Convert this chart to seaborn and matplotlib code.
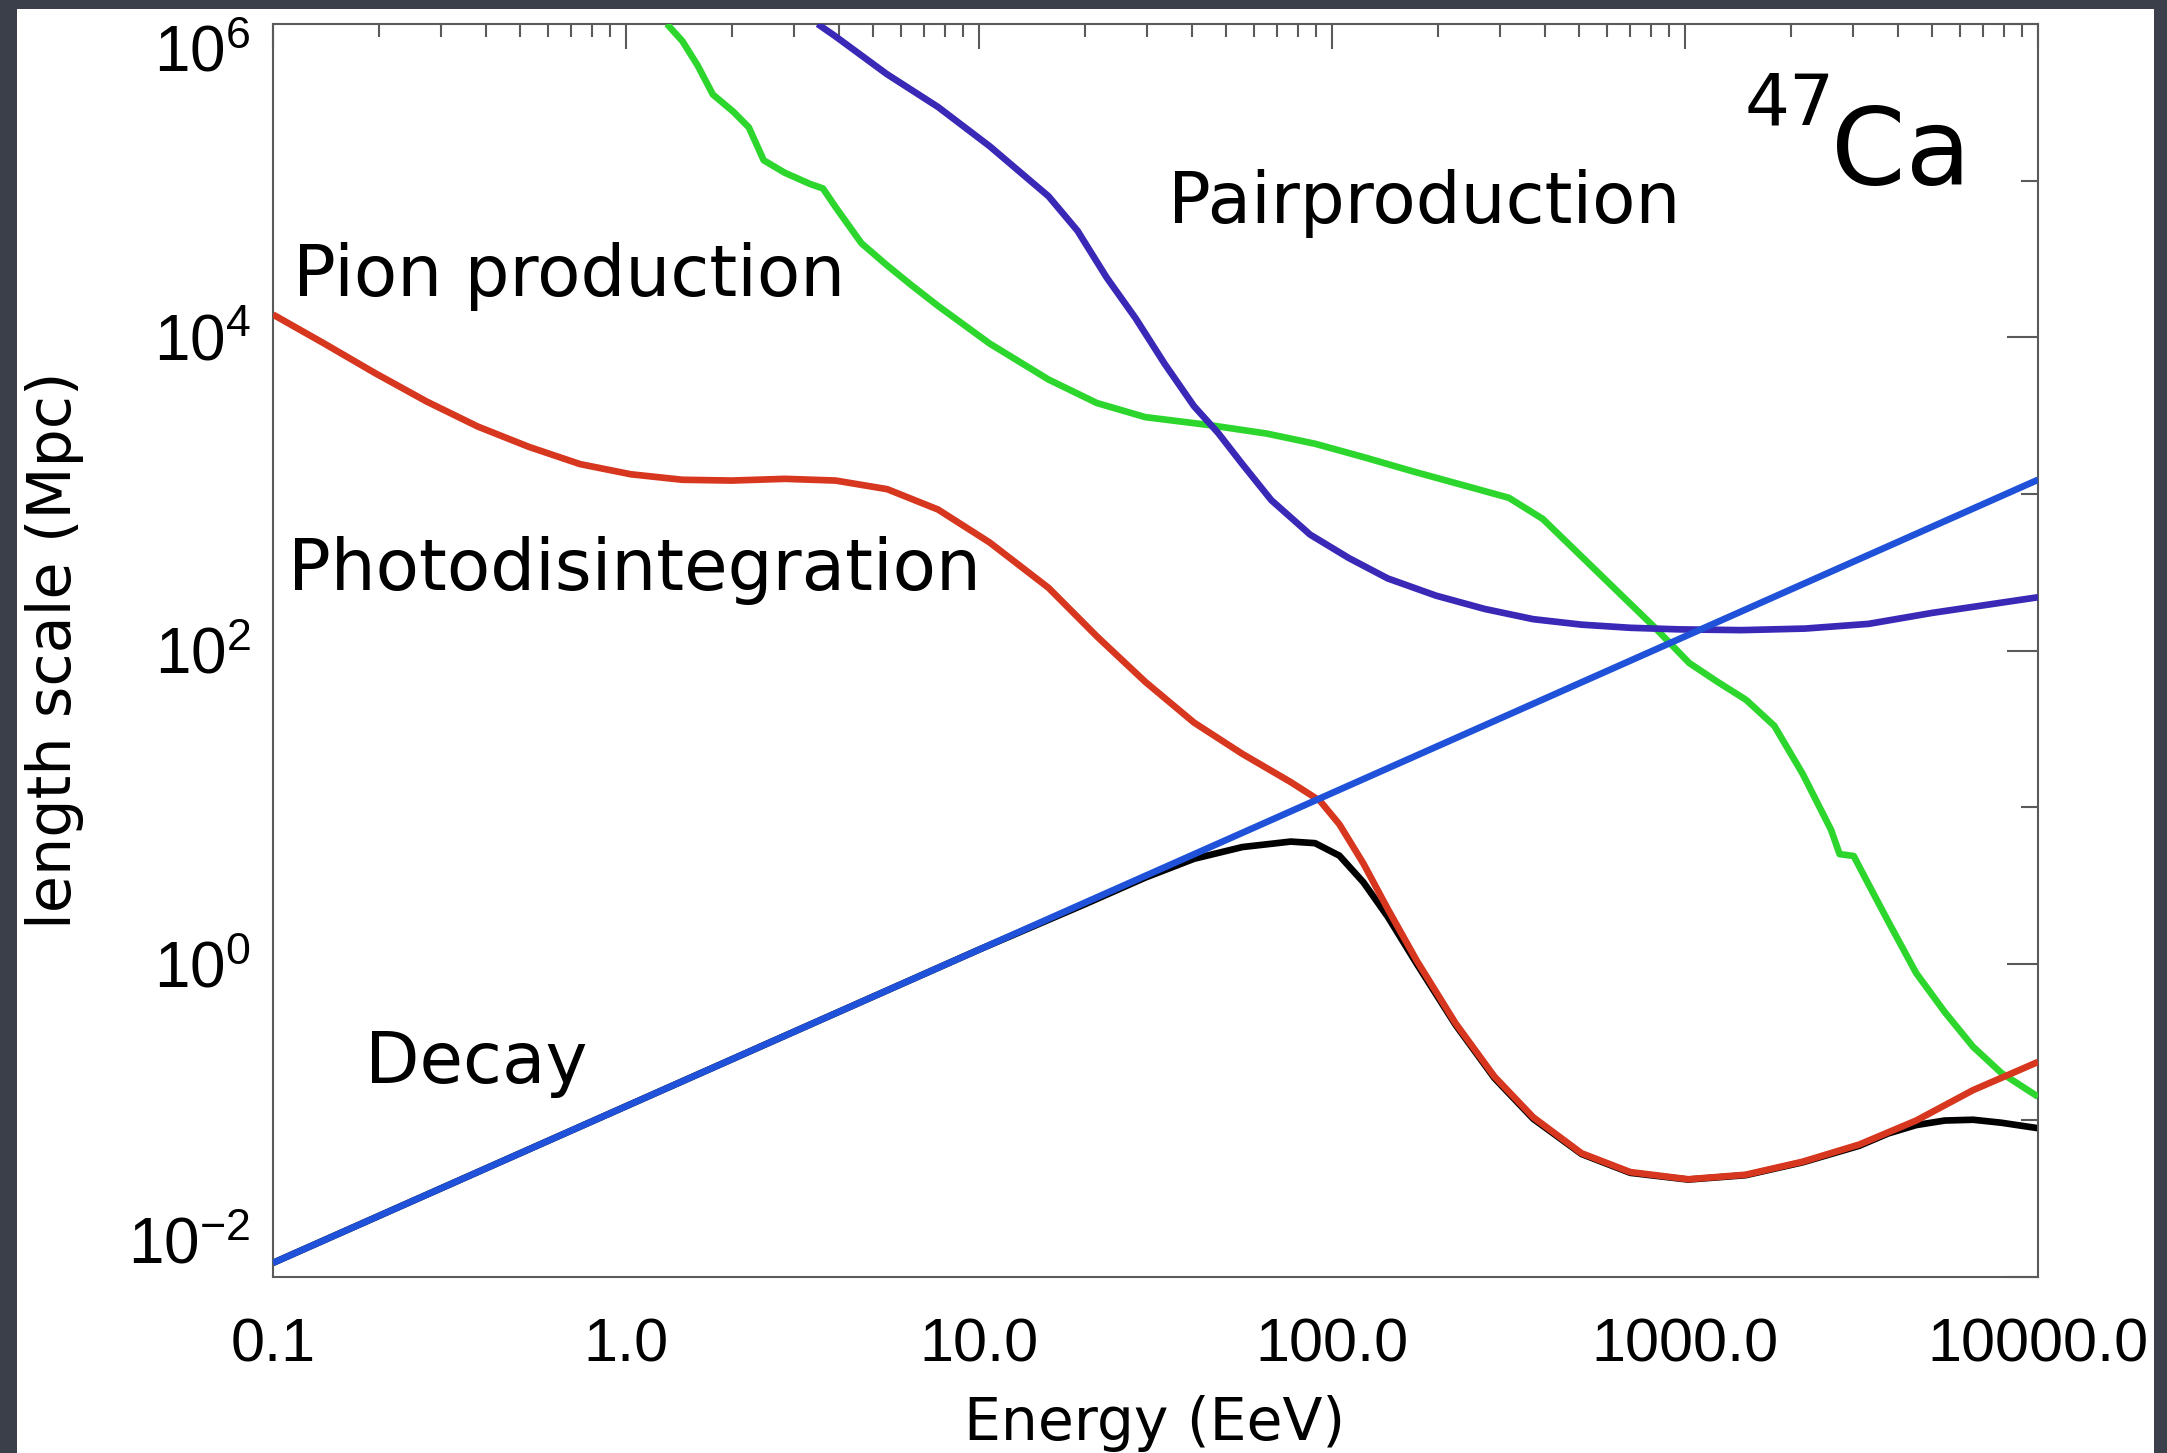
import numpy as np
import pandas as pd
import matplotlib
matplotlib.use("Agg")
import matplotlib.pyplot as plt
import matplotlib.ticker as mticker
from matplotlib.patches import Rectangle
import seaborn as sns

# Interaction length scales for 47Ca nuclei, stored as log10(E / EeV) and log10(L / Mpc)
decay_log_e = [-1.0, 4.0]
decay_log_l = [-1.91, 3.09]

photo_log_e = [-1.0, -0.855, -0.71, -0.565, -0.42, -0.275, -0.13, 0.014, 0.16, 0.30,
               0.45, 0.594, 0.74, 0.884, 1.03, 1.197, 1.334, 1.471, 1.609, 1.746,
               1.883, 1.966, 2.021, 2.089, 2.158, 2.24, 2.35, 2.46, 2.57, 2.707,
               2.845, 3.009, 3.172, 3.333, 3.494, 3.655, 3.816, 4.0]
photo_log_l = [4.145, 3.96, 3.77, 3.59, 3.43, 3.30, 3.19, 3.125, 3.09, 3.085,
               3.096, 3.085, 3.03, 2.90, 2.69, 2.40, 2.09, 1.80, 1.54, 1.34,
               1.16, 1.04, 0.89, 0.64, 0.35, 0.02, -0.38, -0.72, -0.98, -1.21,
               -1.33, -1.376, -1.347, -1.264, -1.154, -1.001, -0.807, -0.627]

total_log_e = [-1.0, 0.0, 1.0, 1.3, 1.471, 1.609, 1.746, 1.883, 1.952, 2.021,
               2.089, 2.158, 2.24, 2.35, 2.46, 2.57, 2.707, 2.845, 3.009, 3.172,
               3.333, 3.494, 3.575, 3.655, 3.736, 3.816, 3.896, 4.0]
total_log_l = [-1.91, -0.91, 0.09, 0.38, 0.55, 0.67, 0.745, 0.78, 0.77, 0.69,
               0.52, 0.30, 0.0, -0.39, -0.73, -0.99, -1.215, -1.335, -1.378, -1.35,
               -1.268, -1.162, -1.084, -1.03, -1.001, -0.996, -1.015, -1.05]

pion_log_e = [0.116, 0.16, 0.203, 0.246, 0.304, 0.348, 0.39, 0.45, 0.52, 0.558,
              0.594, 0.667, 0.739, 0.81, 0.884, 1.03, 1.197, 1.334, 1.471, 1.65,
              1.815, 1.952, 2.089, 2.227, 2.364, 2.501, 2.597, 2.707, 2.803, 2.913,
              3.012, 3.092, 3.173, 3.253, 3.333, 3.414, 3.438, 3.478, 3.51, 3.575,
              3.655, 3.736, 3.816, 3.896, 4.0]
pion_log_l = [6.0, 5.89, 5.735, 5.55, 5.44, 5.34, 5.13, 5.05, 4.98, 4.95,
              4.83, 4.60, 4.46, 4.33, 4.20, 3.96, 3.73, 3.58, 3.49, 3.44,
              3.385, 3.32, 3.235, 3.145, 3.06, 2.975, 2.84, 2.60, 2.39, 2.15,
              1.92, 1.80, 1.685, 1.519, 1.214, 0.854, 0.70, 0.688, 0.55, 0.273,
              -0.06, -0.309, -0.53, -0.697, -0.849]

pair_log_e = [0.543, 0.594, 0.739, 0.884, 1.03, 1.197, 1.279, 1.362, 1.444,
              1.526, 1.609, 1.677, 1.746, 1.828, 1.938, 2.048, 2.158, 2.295, 2.433,
              2.57, 2.707, 2.845, 2.982, 3.16, 3.34, 3.52, 3.70, 3.88, 4.0]
pair_log_l = [6.0, 5.92, 5.68, 5.47, 5.22, 4.90, 4.68, 4.38, 4.12,
              3.83, 3.56, 3.39, 3.19, 2.96, 2.74, 2.59, 2.46, 2.35, 2.265,
              2.20, 2.165, 2.145, 2.135, 2.13, 2.14, 2.17, 2.24, 2.30, 2.34]

x_ticks = [0.1, 1.0, 10.0, 100.0, 1000.0, 10000.0]
x_tick_labels = ["0.1", "1.0", "10.0", "100.0", "1000.0", "10000.0"]
y_ticks = [1e-2, 1e0, 1e2, 1e4, 1e6]
y_tick_labels = [r"$10^{-2}$", r"$10^{0}$", r"$10^{2}$", r"$10^{4}$", r"$10^{6}$"]
y_minor_ticks = [1e-1, 1e1, 1e3, 1e5]

sns.set_theme(style="white")
plt.rcParams["font.family"] = ["DejaVu Sans"]
plt.rcParams["mathtext.default"] = "regular"

W, H = 2167, 1453
fig = plt.figure(figsize=(W / 100, H / 100), dpi=100)
slate = "#3b3f49"
fig.patch.set_facecolor(slate)
fig.add_artist(Rectangle((17 / W, 0), (2154 - 17) / W, (H - 9) / H,
                         transform=fig.transFigure, facecolor="white",
                         edgecolor="none", zorder=-1))

ax = fig.add_axes([273 / W, 1 - 1277 / H, 1765 / W, 1253 / H])
ax.set_facecolor("white")

lw = 4.8
curves = [
    (total_log_e, total_log_l, "#000000", 2),
    (pion_log_e, pion_log_l, "#2dd62d", 3),
    (photo_log_e, photo_log_l, "#d7361f", 4),
    (pair_log_e, pair_log_l, "#3a28b6", 5),
    (decay_log_e, decay_log_l, "#1f52d8", 6),
]
for log_e, log_l, col, z in curves:
    df = pd.DataFrame({"energy": np.power(10.0, log_e),
                       "length": np.power(10.0, log_l)})
    sns.lineplot(data=df, x="energy", y="length", ax=ax, color=col,
                 linewidth=lw, estimator=None, sort=False, zorder=z,
                 solid_joinstyle="round", solid_capstyle="butt")

ax.set_xscale("log")
ax.set_yscale("log")
ax.set_xlim(0.1, 1e4)
ax.set_ylim(1e-2, 1e6)
ax.set_xlabel("")
ax.set_ylabel("")

ax.xaxis.set_major_locator(mticker.FixedLocator(x_ticks))
ax.xaxis.set_major_formatter(mticker.FixedFormatter(x_tick_labels))
ax.xaxis.set_minor_locator(mticker.LogLocator(base=10, subs=np.arange(2, 10), numticks=20))
ax.xaxis.set_minor_formatter(mticker.NullFormatter())
ax.yaxis.set_major_locator(mticker.FixedLocator(y_ticks))
ax.yaxis.set_major_formatter(mticker.FixedFormatter(y_tick_labels))
ax.yaxis.set_minor_locator(mticker.FixedLocator(y_minor_ticks))
ax.yaxis.set_minor_formatter(mticker.NullFormatter())

axis_grey = "#5a5a5a"
for sp in ax.spines.values():
    sp.set_color(axis_grey)
    sp.set_linewidth(1.5)

ax.tick_params(which="both", direction="in", top=True, right=True,
               color=axis_grey, width=1.5, labelcolor="black",
               labelfontfamily="Liberation Sans")
ax.tick_params(axis="x", which="major", length=18, pad=29, labelsize=44)
ax.tick_params(axis="x", which="minor", length=9.5)
ax.tick_params(axis="y", which="major", length=22, pad=16, labelsize=46)
ax.tick_params(axis="y", which="minor", length=12)

ylabels = ax.get_yticklabels()
ylabels[-1].set_va("top")
ylabels[0].set_va("bottom")

# curve annotations
lab_kw = dict(transform=ax.transAxes, fontsize=51, ha="left", va="baseline",
              family="DejaVu Sans", color="black")
ax.text(0.0113, 0.783, "Pion production", **lab_kw)
ax.text(0.0085, 0.548, "Photodisintegration", **lab_kw)
ax.text(0.052, 0.155, "Decay", **lab_kw)
ax.text(0.507, 0.841, "Pairproduction", **lab_kw)
ax.text(0.834, 0.920, "47", **lab_kw)
ax.text(0.8827, 0.872, "Ca", transform=ax.transAxes, fontsize=77, ha="left",
        va="baseline", family="DejaVu Sans", color="black")

fig.text(1155 / W, 1 - 1440 / H, "Energy (EeV)", ha="center", va="baseline",
         fontsize=42, family="DejaVu Sans", color="black")
fig.text(71 / W, 1 - 650 / H, "length scale (Mpc)", ha="center", va="baseline",
         rotation=90, rotation_mode="anchor", fontsize=43.5,
         family="DejaVu Sans", color="black")

# slide frame on the right edge
fig.add_artist(Rectangle((2154 / W, 0), (W - 2154) / W, 1,
                         transform=fig.transFigure, facecolor=slate,
                         edgecolor="none", zorder=10))

fig.savefig("out.png", dpi=100, facecolor=fig.get_facecolor())
